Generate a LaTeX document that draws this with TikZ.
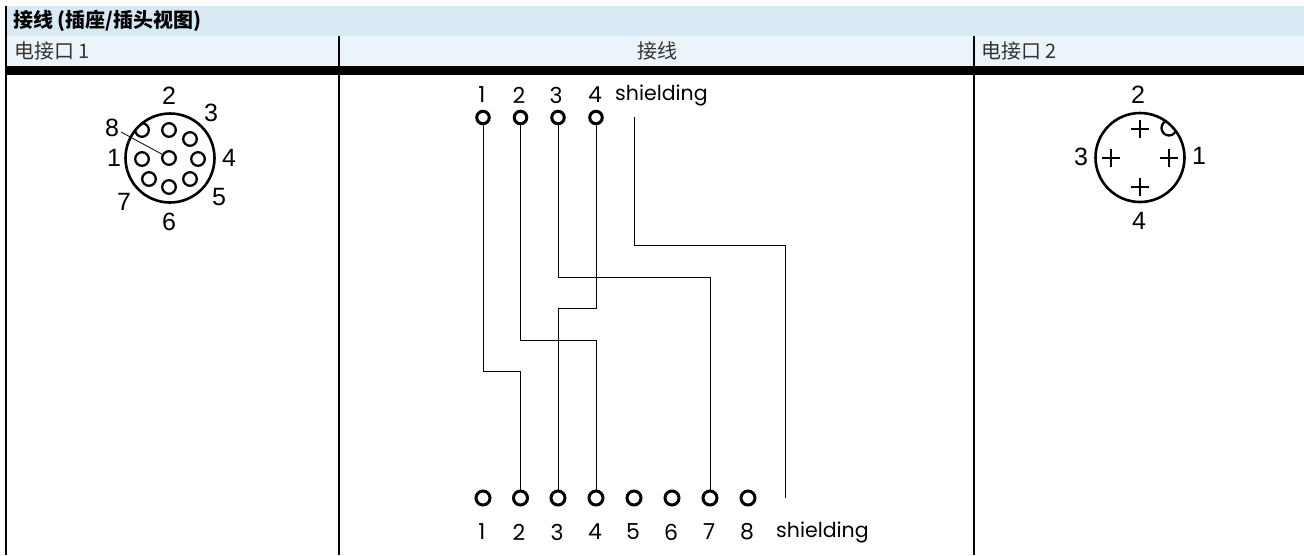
\documentclass[tikz,border=0pt]{standalone}
\usepackage{fontspec}
\setmainfont{Liberation Sans}
\newfontfamily\cjk{Noto Sans CJK SC}
\newfontfamily\din{Poppins}
\definecolor{headA}{HTML}{D7E9F3}
\definecolor{headB}{HTML}{EBF4FA}
\definecolor{subtext}{HTML}{333333}
\tikzset{
  headtext/.style={font=\cjk\bfseries\fontsize{20}{22}\selectfont,anchor=west,inner sep=0pt,text=black},
  subhead/.style={font=\cjk\fontsize{20}{22}\selectfont,inner sep=0pt,text=subtext},
  num/.style={font=\fontsize{25}{27}\selectfont,inner sep=0pt},
  din/.style={font=\din\fontsize{20.5}{24}\selectfont,inner sep=0pt},
  dindigit/.style={font=\din\fontsize{22}{24}\selectfont,inner sep=0pt},
  pinA/.style={circle,draw,line width=2.3pt,minimum size=13.6pt,inner sep=0pt},
  toppin/.style={circle,draw,line width=3pt,minimum size=12.5pt,inner sep=0pt},
  botpin/.style={circle,draw,line width=3pt,minimum size=14pt,inner sep=0pt},
  wire/.style={line width=1pt},
  cross/.style={line width=1.1pt},
  rim/.style={circle,draw,line width=2.6pt,minimum size=89pt,inner sep=0pt},
}
\begin{document}
\begin{tikzpicture}[x=1pt,y=-1pt]
\useasboundingbox (0,0) rectangle (1304,555);
% header bands
\fill[headA] (6,6) rectangle (1304,36);
\fill[headB] (6,36) rectangle (1304,66);
\fill[black] (6,66) rectangle (1304,75);
\draw[line width=2pt] (6,6) -- (6,555);
\draw[line width=2pt] (339,36) -- (339,555);
\draw[line width=2pt] (974,36) -- (974,555);
\node[headtext] (title) at (13,21) {接线 (插座/插头视图)};
\node[subhead,anchor=west] (h1) at (14,51) {电接口 1};
\node[subhead] (h2) at (657,51) {接线};
\node[subhead,anchor=west] (h3) at (981,51) {电接口 2};

% connector 1
\node[rim] (c1) at (170,158) {};
\begin{scope}
\clip (170,158) circle (44.5);
\node[pinA] (p8) at (142,130) {};
\end{scope}
\node[pinA] (p2) at (169,130) {};
\node[pinA] (p3) at (190,139) {};
\node[pinA] (p4) at (198,159) {};
\node[pinA] (p5) at (190,179) {};
\node[pinA] (p6) at (169,187) {};
\node[pinA] (p7) at (149,179) {};
\node[pinA] (p1) at (142,159) {};
\node[pinA] (pc) at (169,158) {};
\node[num] (l2) at (169,96) {2};
\node[num] (l3) at (211,113) {3};
\node[num] (l8) at (112,128) {8};
\node[num] (l1) at (114,158) {1};
\node[num] (l4) at (229,158) {4};
\node[num] (l5) at (219,197) {5};
\node[num] (l7) at (124,202) {7};
\node[num] (l6) at (169,222) {6};
\coordinate (lead) at (121,132);
\draw[line width=0.8pt] (lead) -- (pc);

% connector 2
\node[rim] (c2) at (1140,157.5) {};
\begin{scope}
\clip (1140,157.5) circle (44.5);
\node[pinA,minimum size=15pt] (q) at (1169,128) {};
\end{scope}
\draw[cross] (1131,129) -- (1149,129) (1140,120) -- (1140,138);
\draw[cross] (1102,158) -- (1120,158) (1111,149) -- (1111,167);
\draw[cross] (1160,158) -- (1178,158) (1169,149) -- (1169,167);
\draw[cross] (1131,187) -- (1149,187) (1140,178) -- (1140,196);
\node[num] (m2) at (1138,95) {2};
\node[num] (m3) at (1081,157) {3};
\node[num] (m1) at (1199,156) {1};
\node[num] (m4) at (1139,221) {4};

% wiring pins
\foreach \n/\x in {1/483,2/520.5,3/558,4/596}{
  \node[toppin] (t\n) at (\x,117.5) {};
}
\foreach \n/\x in {1/483,2/520.5,3/558,4/596,5/634,6/672,7/710,8/748}{
  \node[botpin] (b\n) at (\x,498) {};
}
\foreach \n/\x in {1/482,2/519,3/556,4/595}{
  \node[dindigit] (tl\n) at (\x,95) {\n};
}
\foreach \n/\x in {1/482,2/519,3/557,4/595,5/633,6/671,7/709,8/747}{
  \node[dindigit] (bl\n) at (\x,532) {\n};
}
\node[din,anchor=west] (ts) at (615,95) {shielding};
\node[din,anchor=west] (bs) at (776,532) {shielding};
\coordinate (s1) at (634,117);
\coordinate (s2) at (785,498);

% wires
\draw[wire] (t1) -- (t1 |- 0,371) -- (b2 |- 0,371) -- (b2);
\draw[wire] (t2) -- (t2 |- 0,340) -- (b4 |- 0,340) -- (b4);
\draw[wire] (t3) -- (t3 |- 0,277) -- (b7 |- 0,277) -- (b7);
\draw[wire] (t4) -- (t4 |- 0,308) -- (b3 |- 0,308) -- (b3);
\draw[wire] (s1) -- (s1 |- 0,245) -- (s2 |- 0,245) -- (s2);
\end{tikzpicture}
\end{document}
